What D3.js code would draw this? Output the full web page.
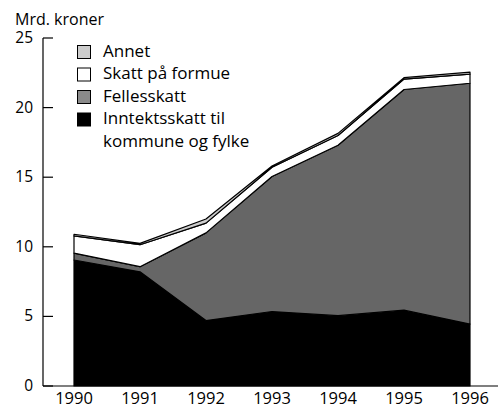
<!DOCTYPE html>
<html>
<head>
	<script src="https://cdn.jsdelivr.net/npm/d3@7"></script>
	<style>
		html, body { margin: 0; padding: 0; background: white; }
		text { font-family: "Open Sans", sans-serif; fill: #000; }
	</style>
</head>
<body>
	<div id="chart"></div>
	<script>
		// data
		var years = [1990, 1991, 1992, 1993, 1994, 1995, 1996];
		var inntektsskatt = [9.05, 8.2, 4.7, 5.35, 5.05, 5.45, 4.45];
		var fellesskatt = [0.5, 0.37, 6.3, 9.7, 12.25, 15.85, 17.3];
		var formue = [1.23, 1.58, 0.7, 0.66, 0.7, 0.75, 0.65];
		var annet = [0.12, 0.1, 0.3, 0.1, 0.15, 0.1, 0.15];
		var yTicks = [0, 5, 10, 15, 20, 25];

		var seriesColors = ["#000000", "#666666", "#ffffff", "#cccccc"];
		var legendColors = ["#000000", "#8a8a8a", "#ffffff", "#cccccc"];

		var width = 498, height = 408;
		var svg = d3.select('#chart').append('svg')
			.attr('width', width)
			.attr('height', height);

		var x = d3.scalePoint().domain(years).range([74, 470]);
		var y = d3.scaleLinear().domain([0, 25]).range([386, 38]);

		var rows = years.map(function(yr, i) {
			return { year: yr, s0: inntektsskatt[i], s1: fellesskatt[i], s2: formue[i], s3: annet[i] };
		});
		var layers = d3.stack().keys(["s0", "s1", "s2", "s3"])(rows);

		var area = d3.area()
			.x(function(d) { return x(d.data.year); })
			.y0(function(d) { return y(d[0]); })
			.y1(function(d) { return y(d[1]); });

		svg.selectAll("path.layer")
			.data(layers)
			.enter().append("path")
			.attr("class", "layer")
			.attr("d", area)
			.style("fill", function(d, i) { return seriesColors[i]; })
			.style("stroke", "#000")
			.style("stroke-width", 1.2)
			.style("stroke-linejoin", "round");

		// y axis, ticks pointing inward
		svg.append("line")
			.attr("x1", 43).attr("x2", 43)
			.attr("y1", y(25)).attr("y2", y(0))
			.style("stroke", "#000").style("stroke-width", 1.2);
		svg.selectAll("line.ytick")
			.data(yTicks)
			.enter().append("line")
			.attr("class", "ytick")
			.attr("x1", 43).attr("x2", 53)
			.attr("y1", function(d) { return y(d); })
			.attr("y2", function(d) { return y(d); })
			.style("stroke", "#000").style("stroke-width", 1.2);
		svg.selectAll("text.ylab")
			.data(yTicks)
			.enter().append("text")
			.attr("class", "ylab")
			.attr("x", 33)
			.attr("y", function(d) { return y(d) + 5; })
			.attr("text-anchor", "end")
			.style("font-size", "15.5px")
			.text(function(d) { return d; });

		// x axis
		svg.append("line")
			.attr("x1", 43).attr("x2", 498)
			.attr("y1", y(0)).attr("y2", y(0))
			.style("stroke", "#000").style("stroke-width", 1.2);
		svg.selectAll("text.xlab")
			.data(years)
			.enter().append("text")
			.attr("class", "xlab")
			.attr("x", function(d) { return x(d); })
			.attr("y", 404)
			.attr("text-anchor", "middle")
			.style("font-size", "16.5px")
			.text(function(d) { return d; });

		svg.append("text")
			.attr("x", 15).attr("y", 25)
			.style("font-size", "16px")
			.text("Mrd. kroner");

		// legend, top item first
		var legendItems = [
			{ label: ["Annet"], color: legendColors[3] },
			{ label: ["Skatt på formue"], color: legendColors[2] },
			{ label: ["Fellesskatt"], color: legendColors[1] },
			{ label: ["Inntektsskatt til", "kommune og fylke"], color: legendColors[0] }
		];
		var lg = svg.selectAll("g.legend")
			.data(legendItems)
			.enter().append("g")
			.attr("class", "legend")
			.attr("transform", function(d, i) { return "translate(77," + (45 + i * 22.5) + ")"; });
		lg.append("rect")
			.attr("x", 0.5).attr("y", 0.5)
			.attr("width", 13).attr("height", 13)
			.style("fill", function(d) { return d.color; })
			.style("stroke", "#000").style("stroke-width", 1);
		lg.append("text")
			.attr("y", 11.5)
			.style("font-size", "17px")
			.selectAll("tspan")
			.data(function(d) { return d.label; })
			.enter().append("tspan")
			.attr("x", 26)
			.attr("dy", function(d, i) { return i === 0 ? 0 : 23; })
			.text(function(d) { return d; });
	</script>
</body>
</html>
